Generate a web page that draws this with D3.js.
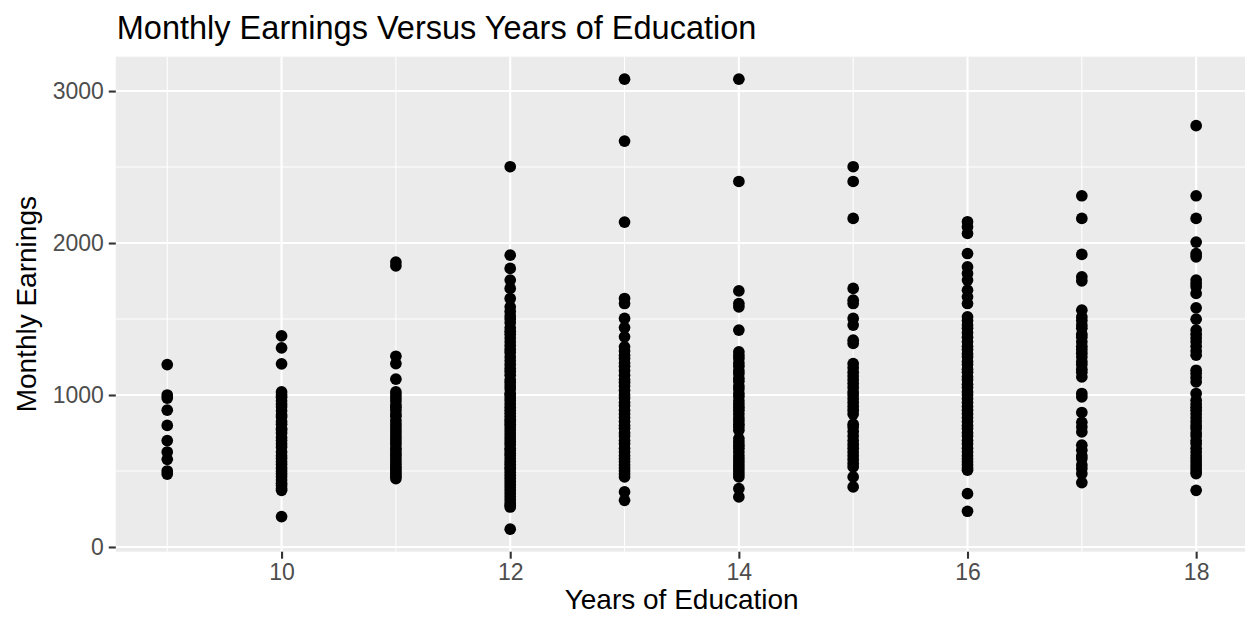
<!DOCTYPE html>
<html><head><meta charset="utf-8">
<script src="https://cdn.jsdelivr.net/npm/d3@7"></script>
<style>
body{margin:0;background:#fff}
text{font-family:"Liberation Sans",Arial,Helvetica,sans-serif}
</style>
</head><body>
<svg id="chart" width="1245" height="617"></svg>
<script>
// ---- labels & ticks ----
const chartTitle = "Monthly Earnings Versus Years of Education";
const xLabel = "Years of Education";
const yLabel = "Monthly Earnings";
const xTicks = [10, 12, 14, 16, 18];
const xMinor = [9, 11, 13, 15, 17];
const yTicks = [0, 1000, 2000, 3000];
const yMinor = [500, 1500, 2500];

// ---- data: monthly earnings read per years of education ----
const years = [9, 10, 11, 12, 13, 14, 15, 16, 17, 18];
const educ9 = [1200, 1000, 980, 900, 800, 700, 625, 577, 500, 480];
const educ10 = [1389, 1310, 1205, 1020, 1000, 985, 962, 940, 923, 897, 870, 856, 825, 808, 780, 769, 750, 721, 700, 680, 658, 625, 600, 583, 560, 542, 520, 500, 481, 462, 440, 420, 404, 385, 373, 200];
const educ11 = [1875, 1850, 1255, 1207, 1104, 1020, 1000, 980, 960, 935, 920, 900, 875, 860, 833, 810, 790, 769, 750, 730, 712, 693, 675, 650, 635, 615, 600, 580, 560, 542, 525, 510, 495, 480, 465, 450];
const educ12 = [2502, 1920, 1833, 1756, 1701, 1635, 1580, 1550, 1520, 1500, 1475, 1442, 1420, 1400, 1375, 1350, 1325, 1300, 1280, 1250, 1225, 1200, 1175, 1154, 1130, 1100, 1083, 1060, 1040, 1010, 1000, 980, 962, 940, 920, 900, 880, 860, 840, 825, 808, 790, 769, 750, 731, 712, 693, 675, 650, 635, 615, 600, 580, 562, 545, 525, 510, 490, 470, 450, 430, 410, 390, 370, 350, 330, 310, 290, 275, 263, 117];
const educ13 = [3078, 2671, 2138, 1635, 1602, 1504, 1444, 1383, 1317, 1290, 1260, 1240, 1210, 1190, 1160, 1130, 1100, 1083, 1060, 1030, 1000, 980, 950, 930, 900, 875, 850, 825, 800, 780, 750, 730, 700, 680, 650, 625, 600, 580, 560, 540, 520, 500, 480, 461, 362, 307];
const educ14 = [3078, 2405, 1685, 1602, 1580, 1427, 1284, 1260, 1240, 1210, 1190, 1160, 1140, 1110, 1090, 1060, 1040, 1010, 990, 962, 940, 920, 900, 875, 850, 830, 808, 790, 768, 713, 690, 670, 650, 625, 600, 580, 560, 540, 520, 500, 480, 461, 384, 329];
const educ15 = [2502, 2405, 2162, 1701, 1624, 1602, 1504, 1460, 1361, 1339, 1207, 1180, 1150, 1125, 1100, 1075, 1050, 1020, 1000, 975, 950, 925, 900, 875, 808, 790, 760, 730, 700, 675, 650, 625, 600, 575, 550, 527, 461, 395];
const educ16 = [2140, 2107, 2063, 1931, 1843, 1800, 1756, 1690, 1646, 1602, 1514, 1490, 1460, 1440, 1410, 1380, 1350, 1320, 1300, 1270, 1250, 1220, 1200, 1170, 1150, 1120, 1100, 1070, 1050, 1020, 1000, 975, 950, 925, 900, 875, 850, 825, 800, 780, 750, 730, 700, 680, 650, 625, 600, 580, 560, 540, 520, 505, 351, 235];
const educ17 = [2311, 2162, 1925, 1778, 1751, 1558, 1514, 1490, 1460, 1440, 1400, 1380, 1350, 1320, 1300, 1275, 1250, 1220, 1200, 1170, 1150, 1119, 1010, 987, 885, 820, 790, 757, 670, 637, 600, 582, 540, 516, 483, 424];
const educ18 = [2772, 2311, 2162, 2006, 1931, 1909, 1756, 1733, 1712, 1668, 1574, 1499, 1427, 1400, 1375, 1350, 1320, 1290, 1262, 1163, 1141, 1115, 1086, 1010, 966, 940, 920, 900, 875, 850, 825, 800, 780, 750, 730, 700, 680, 650, 625, 600, 580, 560, 540, 520, 500, 483, 373];
const earningsByYear = [educ9, educ10, educ11, educ12, educ13, educ14, educ15, educ16, educ17, educ18];

const points = [];
years.forEach((yr, i) => earningsByYear[i].forEach(v => points.push({x: yr, y: v})));

// ---- layout ----
const W = 1245, H = 617;
const panel = {left: 115.8, right: 1247.6, top: 56.7, bottom: 551.7};
const svg = d3.select("#chart");

const xExt = d3.extent(points, d => d.x);
const yExt = d3.extent(points, d => d.y);
const xPad = (xExt[1] - xExt[0]) * 0.05;
const yPad = (yExt[1] - yExt[0]) * 0.05;
const x = d3.scaleLinear().domain([xExt[0] - xPad, xExt[1] + xPad]).range([panel.left, panel.right]);
const y = d3.scaleLinear().domain([yExt[0] - yPad, yExt[1] + yPad]).range([panel.bottom, panel.top]);

svg.append("defs").append("clipPath").attr("id", "pclip")
  .append("rect").attr("x", panel.left).attr("y", panel.top)
  .attr("width", panel.right - panel.left).attr("height", panel.bottom - panel.top);

// panel background
svg.append("rect").attr("x", panel.left).attr("y", panel.top)
  .attr("width", panel.right - panel.left).attr("height", panel.bottom - panel.top)
  .attr("fill", "#EBEBEB");

const grid = svg.append("g").attr("clip-path", "url(#pclip)");
grid.selectAll(".ymin").data(yMinor).join("line")
  .attr("x1", panel.left).attr("x2", panel.right)
  .attr("y1", d => y(d)).attr("y2", d => y(d))
  .attr("stroke", "#fff").attr("stroke-width", 1.05);
grid.selectAll(".xmin").data(xMinor).join("line")
  .attr("y1", panel.top).attr("y2", panel.bottom)
  .attr("x1", d => x(d)).attr("x2", d => x(d))
  .attr("stroke", "#fff").attr("stroke-width", 1.05);
grid.selectAll(".ymaj").data(yTicks).join("line")
  .attr("x1", panel.left).attr("x2", panel.right)
  .attr("y1", d => y(d)).attr("y2", d => y(d))
  .attr("stroke", "#fff").attr("stroke-width", 2.1);
grid.selectAll(".xmaj").data(xTicks).join("line")
  .attr("y1", panel.top).attr("y2", panel.bottom)
  .attr("x1", d => x(d)).attr("x2", d => x(d))
  .attr("stroke", "#fff").attr("stroke-width", 2.1);

// points
svg.append("g").attr("clip-path", "url(#pclip)")
  .selectAll("circle").data(points).join("circle")
  .attr("cx", d => x(d.x)).attr("cy", d => y(d.y)).attr("r", 5.85)
  .attr("fill", "#000");

// axes
const tickFont = 23;
const yAxis = svg.append("g").attr("transform", `translate(${panel.left},0)`)
  .call(d3.axisLeft(y).tickValues(yTicks).tickSize(7).tickPadding(5).tickFormat(d3.format("d")));
const xAxis = svg.append("g").attr("transform", `translate(0,${panel.bottom})`)
  .call(d3.axisBottom(x).tickValues(xTicks).tickSize(7).tickPadding(5).tickFormat(d3.format("d")));
[yAxis, xAxis].forEach(a => {
  a.select(".domain").remove();
  a.selectAll(".tick line").attr("stroke", "#333333").attr("stroke-width", 2.1);
  a.selectAll(".tick text").attr("fill", "#4D4D4D").style("font-size", tickFont + "px")
    .style("font-family", '"Liberation Sans", Arial, sans-serif');
});

// titles
svg.append("text").attr("x", panel.left + 1).attr("y", 39)
  .style("font-size", "32.5px").attr("fill", "#000").text(chartTitle);
svg.append("text").attr("x", (panel.left + panel.right) / 2).attr("y", 609)
  .attr("text-anchor", "middle").style("font-size", "28px").attr("fill", "#000").text(xLabel);
svg.append("text").attr("transform", `translate(36,${(panel.top + panel.bottom) / 2}) rotate(-90)`)
  .attr("text-anchor", "middle").style("font-size", "28px").attr("fill", "#000").text(yLabel);
</script>
</body></html>
